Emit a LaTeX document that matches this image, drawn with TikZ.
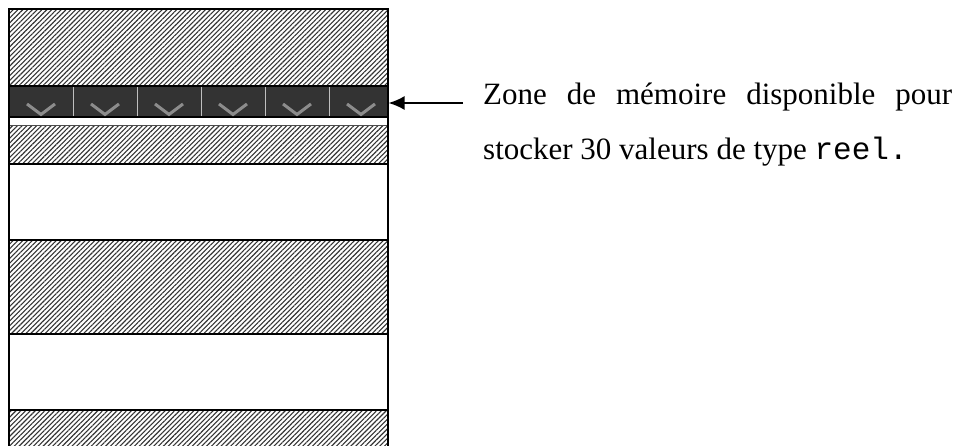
\documentclass[tikz,border=0pt]{standalone}
\usepackage{fontspec}
\setmainfont{Liberation Serif}
\setmonofont{Liberation Mono}
\usetikzlibrary{patterns.meta,arrows.meta}

\begin{document}
\begin{tikzpicture}[x=1pt,y=-1pt,
    hachure/.style={pattern={Lines[angle=45,distance=3.4pt,line width=1.1pt]},pattern color=black!80},
    cadre/.style={line width=1.8pt},
    texte/.style={anchor=base west,inner sep=0pt,font=\fontsize{31}{37}\selectfont}]

  \useasboundingbox (0,0) rectangle (959,446);
  \clip (0,0) rectangle (959,446);

  % zones deja occupees
  \foreach \ya/\yb in {9/86, 126/164, 240/334, 410/452}
    \fill[hachure] (9,\ya) rectangle (388,\yb);

  % zone libre : 30 reels
  \node[fill=black!80, draw=black, line width=1.2pt, minimum width=379pt,
        minimum height=31pt, inner sep=0pt] (zone) at (198.5,101.5) {};
  \foreach \i in {1,...,5}
    \draw[black!25, line width=0.8pt] (9+64*\i,87) -- (9+64*\i,116);
  \foreach \i in {0,...,5}
    \draw[black!45, line width=3pt] (27+64*\i,104) -- (41+64*\i,114.5) -- (55+64*\i,104);

  % separations
  \draw[black!70, line width=1.2pt] (9,125.5) -- (388,125.5);
  \foreach \y in {164,240,334,410}
    \draw[line width=1.5pt] (9,\y) -- (388,\y);
  \draw[cadre] (9,452) -- (9,9) -- (388,9) -- (388,452);

  % legende
  \node[texte] (ligne1) at (483,105) {\makebox[469pt][s]{Zone de mémoire disponible pour}};
  \node[texte] (ligne2) at (483,160) {stocker 30 valeurs de type \texttt{reel.}};

  \coordinate (depart) at (463,103);
  \draw[-{Latex[length=16pt,width=14pt]}, line width=1.6pt] (depart) -- (depart -| zone.east);
\end{tikzpicture}
\end{document}
